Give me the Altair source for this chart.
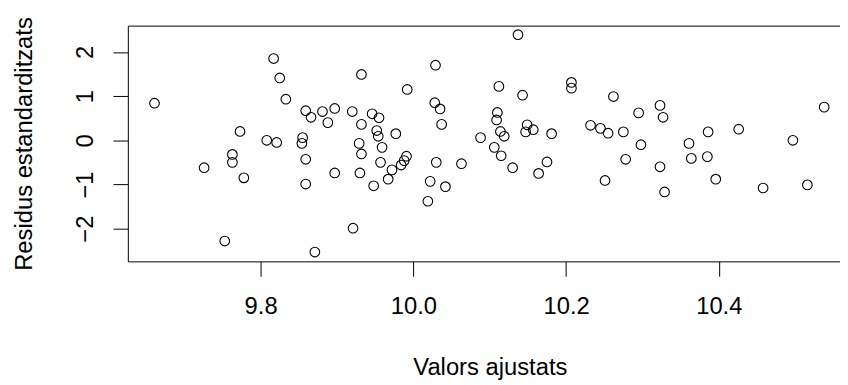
import altair as alt
import pandas as pd

# Fitted values (x) and standardized residuals (y)
fitted = [
    9.661, 9.817, 9.825, 9.833, 9.859, 9.866, 9.881, 9.888, 9.897, 9.920,
    9.932, 9.932, 9.773, 9.808, 9.821, 9.855, 9.854, 9.859, 9.859, 9.763,
    9.763, 9.726, 9.778, 9.897, 9.929, 9.932, 9.930, 9.921, 9.753, 9.871,
    10.137, 10.029, 9.992, 10.028, 10.035, 10.037, 10.112, 10.143, 10.207, 10.207,
    10.110, 10.109, 9.946, 9.955, 9.952, 9.954, 9.977, 10.088, 10.114, 10.119,
    10.149, 10.157, 10.147, 10.181, 10.232, 10.245, 9.959, 9.957, 9.972, 9.984,
    9.988, 9.991, 9.948, 9.967, 10.030, 10.063, 10.022, 10.042, 10.019, 10.106,
    10.115, 10.130, 10.175, 10.164, 10.251, 10.262, 10.295, 10.323, 10.327, 10.538,
    10.255, 10.275, 10.386, 10.426, 10.497, 10.298, 10.278, 10.323, 10.329, 10.361,
    10.364, 10.385, 10.396, 10.458, 10.516,
]
residuals = [
    0.84, 1.85, 1.41, 0.93, 0.67, 0.52, 0.65, 0.40, 0.72, 0.65,
    1.49, 0.36, 0.20, 0.00, -0.05, 0.06, -0.07, -0.43, -0.99, -0.32,
    -0.50, -0.62, -0.85, -0.74, -0.07, -0.31, -0.74, -1.99, -2.28, -2.53,
    2.39, 1.70, 1.15, 0.85, 0.71, 0.36, 1.22, 1.02, 1.31, 1.18,
    0.63, 0.46, 0.60, 0.51, 0.22, 0.09, 0.15, 0.06, 0.20, 0.09,
    0.35, 0.24, 0.19, 0.15, 0.34, 0.27, -0.16, -0.50, -0.67, -0.56,
    -0.46, -0.36, -1.03, -0.88, -0.50, -0.53, -0.93, -1.05, -1.38, -0.16,
    -0.35, -0.62, -0.49, -0.75, -0.91, 0.99, 0.62, 0.79, 0.52, 0.75,
    0.16, 0.19, 0.19, 0.25, 0.00, -0.10, -0.43, -0.60, -1.17, -0.07,
    -0.41, -0.37, -0.88, -1.08, -1.01,
]
x_ticks = [9.8, 10.0, 10.2, 10.4]
y_ticks = [-2, -1, 0, 1, 2]

df = pd.DataFrame({"fitted": fitted, "resid": residuals})

FONT = "Liberation Sans"
xscale = alt.Scale(domain=[9.6261, 10.5587], nice=False, zero=False)
yscale = alt.Scale(domain=[-2.741, 2.595], nice=False, zero=False)

points = alt.Chart(df).mark_point(
    shape="circle", filled=False, color="black", size=95, strokeWidth=1.1, opacity=1
).encode(
    x=alt.X(
        "fitted:Q", scale=xscale,
        axis=alt.Axis(
            values=x_ticks, format=".1f", title="Valors ajustats",
            labelBaseline="alphabetic", labelPadding=38,
            titleBaseline="alphabetic", titleAlign="center",
            titleX=365.5, titleY=114,
        ),
    ),
    y=alt.Y(
        "resid:Q", scale=yscale,
        axis=alt.Axis(
            values=y_ticks, format="d", title="Residus estandarditzats",
            labelAngle=270, labelAlign="center", labelBaseline="alphabetic",
            labelPadding=21,
            titleAngle=270, titleBaseline="alphabetic", titleAlign="center",
            titleX=-97, titleY=119,
        ),
    ),
)

top_border = alt.Chart(df).mark_point(opacity=0).encode(
    x=alt.X(
        "fitted:Q", scale=xscale,
        axis=alt.Axis(orient="top", labels=False, ticks=False, domain=True, title=""),
    ),
)

chart = alt.layer(points, top_border).resolve_axis(x="independent").properties(
    width=719,
    height=238,
    autosize=alt.AutoSizeParams(type="none"),
    padding={"left": 121, "top": 16, "right": 0, "bottom": 123},
    background="white",
).configure_view(
    stroke="transparent"
).configure_axis(
    grid=False,
    domainColor="black", domainWidth=1,
    tickColor="black", tickWidth=1, tickSize=15,
    labelColor="black", titleColor="black",
    labelFont=FONT, titleFont=FONT,
    labelFontSize=24, titleFontSize=24,
    titleFontWeight="normal",
    labelOverlap=False, labelFlush=False,
)

chart.save("out.html", embed_options={"renderer": "svg", "actions": False})
